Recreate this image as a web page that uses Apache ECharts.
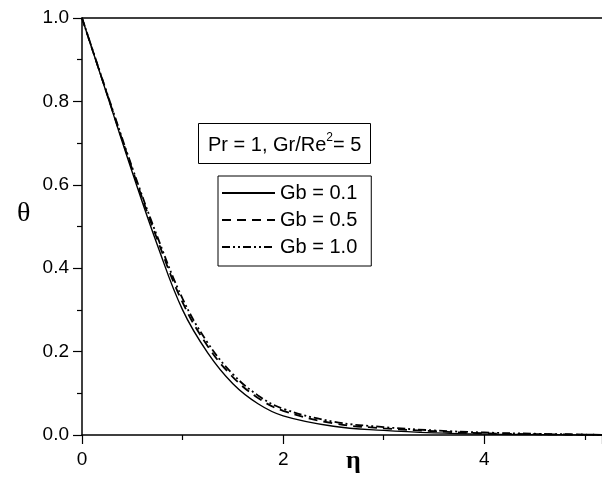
<!DOCTYPE html>
<html>
<head>
<meta charset="utf-8">
<script src="https://cdn.jsdelivr.net/npm/echarts@6/dist/echarts.min.js"></script>
<style>html,body{margin:0;padding:0;background:#fff;}#c{width:602px;height:481px;}</style>
</head>
<body>
<div id="c"></div>
<script>
var eta = [0, 0.25, 0.5, 0.75, 1.0, 1.25, 1.5, 1.75, 2.0, 2.5, 3.0, 3.5, 4.0, 4.5, 5.0, 5.2];
var gb01 = [1.0, 0.815, 0.63, 0.455, 0.30, 0.197, 0.123, 0.075, 0.046, 0.021, 0.011, 0.005, 0.002, 0.001, 0.0, 0.0];
var gb05 = [1.0, 0.817, 0.637, 0.468, 0.318, 0.213, 0.139, 0.089, 0.058, 0.028, 0.016, 0.009, 0.004, 0.002, 0.001, 0.0];
var gb10 = [1.0, 0.819, 0.641, 0.475, 0.327, 0.221, 0.146, 0.095, 0.063, 0.032, 0.019, 0.011, 0.006, 0.003, 0.001, 0.0];
var seriesNames = ['Gb = 0.1', 'Gb = 0.5', 'Gb = 1.0'];
var xTicks = [0, 2, 4];
var yTicks = [0.0, 0.2, 0.4, 0.6, 0.8, 1.0];

function pairs(ys) { return eta.map(function (x, i) { return [x, ys[i]]; }); }

var chart = echarts.init(document.getElementById('c'));
var font = 'Liberation Sans, Arial, sans-serif';
var lineTypes = ['solid', [9, 6], [8, 3, 2, 3, 2, 3]];
var widths = [1.4, 1.8, 1.8];
var data = [gb01, gb05, gb10];

chart.setOption({
  animation: false,
  backgroundColor: '#fff',
  grid: { left: 82, right: 0, top: 18, bottom: 46 },
  title: {
    text: 'Pr = 1, Gr/Re{sup|2}= 5',
    left: 198, top: 123,
    borderColor: '#000', borderWidth: 1,
    padding: [9, 9, 9, 10],
    textStyle: {
      fontFamily: font, fontSize: 20, fontWeight: 'normal', color: '#000',
      rich: { sup: { fontFamily: font, fontSize: 12, color: '#000', padding: [0, 0, 14, 0] } }
    }
  },
  legend: {
    orient: 'vertical',
    left: 218, top: 176,
    padding: [7, 14, 9, 3],
    itemGap: 7,
    itemWidth: 53, itemHeight: 20,
    borderColor: '#000', borderWidth: 1,
    itemStyle: { opacity: 0, borderWidth: 0 },
    textStyle: { fontFamily: font, fontSize: 20, color: '#000' },
    data: seriesNames
  },
  xAxis: [{
    type: 'value', min: 0, max: 5.17, interval: 2,
    axisLine: { lineStyle: { color: '#000', width: 1.5 } },
    axisTick: { show: true, length: 9, lineStyle: { color: '#000', width: 1.2 } },
    minorTick: { show: true, splitNumber: 2, length: 5, lineStyle: { color: '#000', width: 1.2 } },
    splitLine: { show: false },
    axisLabel: {
      fontFamily: font, fontSize: 19, color: '#000', margin: 15, showMaxLabel: false,
      formatter: function (v) { return xTicks.indexOf(v) >= 0 ? String(v) : ''; }
    }
  }, {
    type: 'value', position: 'top', min: 0, max: 5.17,
    axisLine: { show: true, onZero: false, lineStyle: { color: '#000', width: 1.5 } },
    axisTick: { show: false }, axisLabel: { show: false }, splitLine: { show: false }
  }],
  yAxis: {
    type: 'value', min: 0, max: 1, interval: 0.2,
    axisLine: { show: true, lineStyle: { color: '#000', width: 1.5 } },
    axisTick: { show: true, length: 9, lineStyle: { color: '#000', width: 1.2 } },
    minorTick: { show: true, splitNumber: 2, length: 5, lineStyle: { color: '#000', width: 1.2 } },
    splitLine: { show: false },
    axisLabel: {
      fontFamily: font, fontSize: 19, color: '#000', margin: 13,
      formatter: function (v) { return v.toFixed(1); }
    }
  },
  graphic: [
    { type: 'text', left: 17, top: 200, style: { text: 'θ', font: '28px "Liberation Serif", serif', fill: '#000' } },
    { type: 'text', left: 346, top: 448, style: { text: 'η', font: 'bold 26px "Liberation Serif", serif', fill: '#000' } }
  ],
  series: data.map(function (d, i) {
    return {
      name: seriesNames[i], type: 'line', smooth: 0.4, symbol: 'none',
      data: pairs(d),
      lineStyle: { color: '#000', width: widths[i], type: lineTypes[i] },
      itemStyle: { color: '#000' }
    };
  })
});
</script>
</body>
</html>
